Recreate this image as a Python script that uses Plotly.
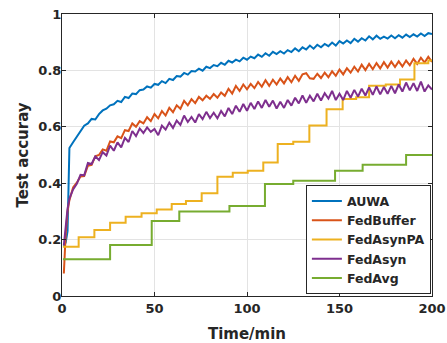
import plotly.graph_objects as go

# time axis (minutes) for the noisy curves
time_min = [1, 2, 3,
            4, 6, 8, 10, 12, 14, 16, 18, 20, 22,
            24, 26, 28, 30, 32, 34, 36, 38, 40, 42,
            44, 46, 48, 50, 52, 54, 56, 58, 60, 62,
            64, 66, 68, 70, 72, 74, 76, 78, 80, 82,
            84, 86, 88, 90, 92, 94, 96, 98, 100, 102,
            104, 106, 108, 110, 112, 114, 116, 118, 120, 122,
            124, 126, 128, 130, 132, 134, 136, 138, 140, 142,
            144, 146, 148, 150, 152, 154, 156, 158, 160, 162,
            164, 166, 168, 170, 172, 174, 176, 178, 180, 182,
            184, 186, 188, 190, 192, 194, 196, 198, 200]

auwa = [0.175, 0.19, 0.23,
        0.525, 0.545, 0.565, 0.584, 0.604, 0.612, 0.628, 0.626, 0.645, 0.658,
        0.664, 0.676, 0.680, 0.692, 0.688, 0.706, 0.702, 0.718, 0.716, 0.730,
        0.732, 0.743, 0.739, 0.752, 0.749, 0.762, 0.755, 0.770, 0.766, 0.780,
        0.778, 0.791, 0.785, 0.798, 0.796, 0.806, 0.799, 0.813, 0.808, 0.819,
        0.815, 0.827, 0.820, 0.834, 0.828, 0.838, 0.832, 0.845, 0.838, 0.849,
        0.843, 0.856, 0.848, 0.861, 0.852, 0.866, 0.858, 0.868, 0.860, 0.872,
        0.865, 0.878, 0.868, 0.882, 0.874, 0.888, 0.877, 0.891, 0.882, 0.894,
        0.886, 0.899, 0.888, 0.904, 0.895, 0.906, 0.897, 0.912, 0.902, 0.914,
        0.906, 0.921, 0.910, 0.923, 0.912, 0.920, 0.913, 0.924, 0.914, 0.925,
        0.916, 0.927, 0.918, 0.928, 0.920, 0.931, 0.922, 0.932, 0.929]

fedbuffer = [0.08, 0.22, 0.30,
             0.340, 0.385, 0.402, 0.424, 0.425, 0.462, 0.465, 0.495, 0.500, 0.520,
             0.515, 0.548, 0.545, 0.566, 0.560, 0.588, 0.585, 0.612, 0.600, 0.620,
             0.612, 0.634, 0.620, 0.645, 0.630, 0.656, 0.640, 0.667, 0.652, 0.676,
             0.664, 0.692, 0.676, 0.698, 0.684, 0.706, 0.694, 0.710, 0.699, 0.716,
             0.703, 0.722, 0.710, 0.735, 0.718, 0.745, 0.727, 0.750, 0.733, 0.752,
             0.737, 0.759, 0.742, 0.765, 0.745, 0.767, 0.750, 0.771, 0.754, 0.776,
             0.758, 0.781, 0.763, 0.786, 0.790, 0.772, 0.770, 0.788, 0.773, 0.792,
             0.776, 0.797, 0.781, 0.803, 0.786, 0.808, 0.792, 0.813, 0.796, 0.820,
             0.801, 0.823, 0.804, 0.826, 0.807, 0.829, 0.810, 0.831, 0.812, 0.832,
             0.814, 0.835, 0.818, 0.841, 0.823, 0.845, 0.828, 0.848, 0.830]

fedasyn = [0.18, 0.26, 0.31,
           0.345, 0.378, 0.398, 0.430, 0.428, 0.472, 0.468, 0.495, 0.482, 0.510,
           0.498, 0.533, 0.515, 0.545, 0.527, 0.561, 0.546, 0.585, 0.567, 0.594,
           0.578, 0.598, 0.582, 0.592, 0.570, 0.604, 0.590, 0.615, 0.596, 0.622,
           0.607, 0.640, 0.617, 0.635, 0.615, 0.645, 0.627, 0.653, 0.631, 0.650,
           0.630, 0.656, 0.637, 0.667, 0.645, 0.675, 0.653, 0.681, 0.657, 0.685,
           0.663, 0.690, 0.667, 0.695, 0.671, 0.693, 0.665, 0.689, 0.667, 0.695,
           0.675, 0.703, 0.683, 0.711, 0.685, 0.710, 0.690, 0.717, 0.693, 0.719,
           0.700, 0.727, 0.695, 0.717, 0.695, 0.727, 0.703, 0.731, 0.707, 0.735,
           0.711, 0.740, 0.713, 0.743, 0.715, 0.741, 0.717, 0.745, 0.719, 0.750,
           0.725, 0.757, 0.729, 0.755, 0.727, 0.760, 0.725, 0.747, 0.732]

# step curves
pa_time = [0.5, 9, 17.5, 26, 34.4, 43, 51.2, 59.3, 67, 75.5, 84, 92.3, 100.4,
           108.8, 116.6, 125, 133.7, 143, 151.7, 159, 166, 175, 182.7, 190.5, 198, 200]
fedasynpa = [0.175, 0.208, 0.234, 0.26, 0.281, 0.293, 0.307, 0.326, 0.337, 0.364,
             0.423, 0.437, 0.444, 0.473, 0.539, 0.547, 0.605, 0.662, 0.699, 0.705,
             0.746, 0.75, 0.768, 0.825, 0.835, 0.835]

avg_time = [0.5, 26, 48.5, 63.4, 90.5, 109.7, 125, 147.6, 162.5, 186, 200]
fedavg = [0.13, 0.181, 0.266, 0.30, 0.319, 0.397, 0.409, 0.444, 0.465, 0.50, 0.50]

names = ["AUWA", "FedBuffer", "FedAsynPA", "FedAsyn", "FedAvg"]
colors = ["#0072BD", "#D95319", "#EDB120", "#7E2F8E", "#77AC30"]

FONT = "DejaVu Sans"
TXT = "#262626"

fig = go.Figure()
series = [(time_min, auwa, "linear"), (time_min, fedbuffer, "linear"),
          (pa_time, fedasynpa, "hv"), (time_min, fedasyn, "linear"),
          (avg_time, fedavg, "hv")]
for (x, y, shape), name, c in zip(series, names, colors):
    fig.add_trace(go.Scatter(x=x, y=y, mode="lines", name=name,
                             line=dict(color=c, width=2, shape=shape)))

axis_common = dict(showline=True, linecolor=TXT, linewidth=1, mirror="ticks",
                   ticks="inside", ticklen=4, tickcolor=TXT,
                   showgrid=True, gridcolor="#e3e3e3", gridwidth=1,
                   zeroline=False, automargin=False, ticklabeloverflow="allow",
                   tickfont=dict(family=FONT, size=13, color=TXT, weight="bold"))

fig.update_xaxes(range=[0, 200], dtick=50, tick0=0,
                 title=dict(text="<b>Time/min</b>", standoff=13,
                            font=dict(family=FONT, size=15, color=TXT)),
                 **axis_common)
fig.update_yaxes(range=[0, 1], dtick=0.2, tick0=0, ticklabelstandoff=-3,
                 title=dict(text="<b>Test accuray</b>", standoff=6,
                            font=dict(family=FONT, size=15, color=TXT)),
                 **axis_common)

fig.update_layout(
    width=447, height=343,
    margin=dict(l=62, r=15, t=14, b=47, autoexpand=False),
    paper_bgcolor="white", plot_bgcolor="white",
    showlegend=True,
    legend=dict(x=0.997, y=0.006, xanchor="right", yanchor="bottom",
                bgcolor="white", bordercolor=TXT, borderwidth=1,
                font=dict(family=FONT, size=12.5, color=TXT, weight="bold"),
                tracegroupgap=0, itemwidth=30),
)

fig.write_html("out.html", config={"displayModeBar": False},
               post_script="document.body.style.margin='0';")
